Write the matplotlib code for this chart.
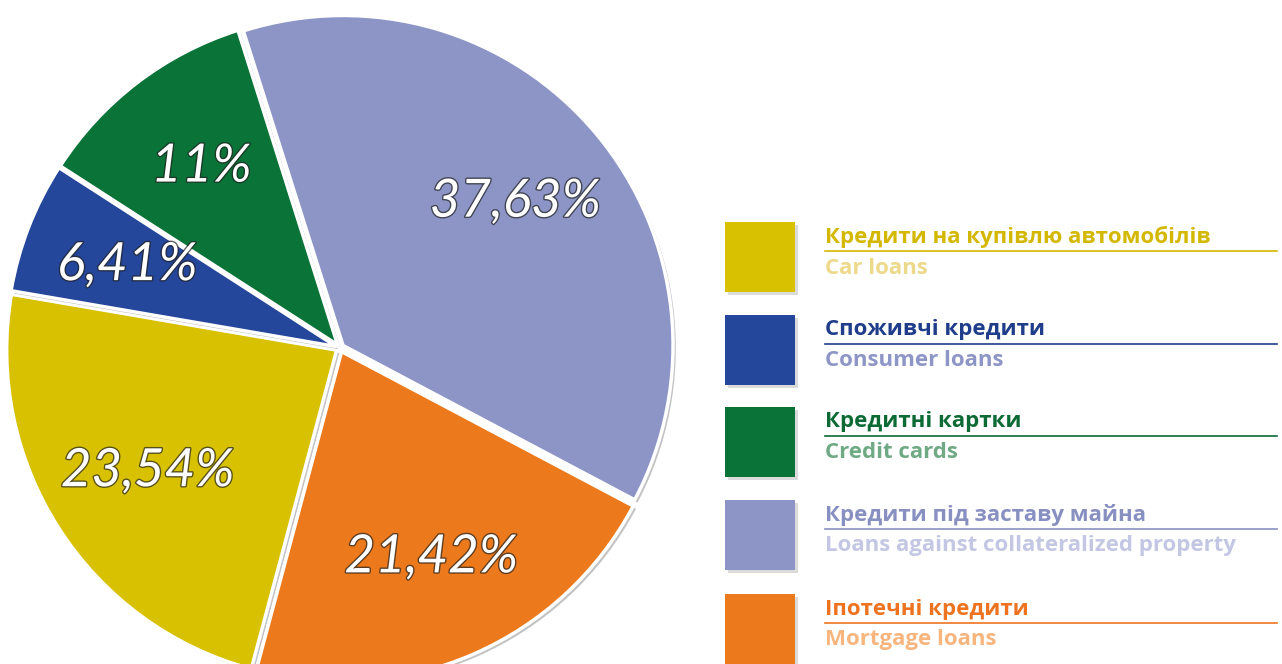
import matplotlib.pyplot as plt
import matplotlib.patheffects as pe
from matplotlib.patches import Rectangle

# legend order = clockwise order in the pie
labels_ua = ["Кредити на купівлю автомобілів", "Споживчі кредити", "Кредитні картки",
             "Кредити під заставу майна", "Іпотечні кредити"]
labels_en = ["Car loans", "Consumer loans", "Credit cards",
             "Loans against collateralized property", "Mortgage loans"]
shares = [23.54, 6.41, 11.0, 37.63, 21.42]
pct_text = ["23,54%", "6,41%", "11%", "37,63%", "21,42%"]

colors = ["#d8c100", "#24469b", "#0a7338", "#8c95c6", "#ec7a1c"]
ua_colors = ["#d4b800", "#1f3d8a", "#0c6b35", "#8890c2", "#ee7320"]
en_colors = ["#edd98a", "#8d96c6", "#6faa85", "#c3c7e3", "#f8b57e"]

W, H = 1282, 664
fig = plt.figure(figsize=(W / 100, H / 100), dpi=100)
fig.patch.set_facecolor("white")

# pie axes: left 680 px, radius 1 = 330 px, centre at (340, 348) px
ax = fig.add_axes([0, 0, 680 / W, 1])
wedges, texts, autotexts = ax.pie(
    shares, colors=colors, startangle=255, counterclock=False,
    explode=[0.012] * 5, autopct="%1.2f%%", pctdistance=0.68,
    wedgeprops=dict(edgecolor="white", linewidth=2.5))
for w in wedges:
    w.set_path_effects([pe.SimplePatchShadow(offset=(2, -2), shadow_rgbFace="#555555", alpha=0.35),
                        pe.Normal()])
for t, s in zip(autotexts, pct_text):
    t.set_text(s)
    t.set_color("white")
    t.set_fontsize(38)
    t.set_family("Lato")
    t.set_style("italic")
    t.set_path_effects([pe.withStroke(linewidth=2, foreground="#222222", alpha=0.7)])
ax.set_aspect("auto")
ax.set_xlim(-340 / 330, 340 / 330)
ax.set_ylim((348 - 664) / 330, 348 / 330)
ax.axis("off")

# legend axes in pixel coordinates
lx = fig.add_axes([700 / W, 0, (W - 700) / W, 1])
lx.set_xlim(700, W)
lx.set_ylim(H, 0)
lx.axis("off")
row_top = [222, 315, 407, 500, 594]
for i in range(5):
    top = row_top[i]
    lx.add_patch(Rectangle((728, top + 3), 70, 70, facecolor="#999999", alpha=0.35, lw=0))
    lx.add_patch(Rectangle((725, top), 70, 70, facecolor=colors[i], lw=0))
    lx.text(825, top + 15, labels_ua[i], color=ua_colors[i], fontsize=16,
            fontweight="bold", family="Open Sans", va="center", ha="left")
    lx.plot([825, 1277], [top + 29, top + 29], color=ua_colors[i], lw=1.2)
    lx.text(825, top + 46, labels_en[i], color=en_colors[i], fontsize=16,
            fontweight="bold", family="Open Sans", va="center", ha="left")

fig.savefig("out.png", dpi=100)
